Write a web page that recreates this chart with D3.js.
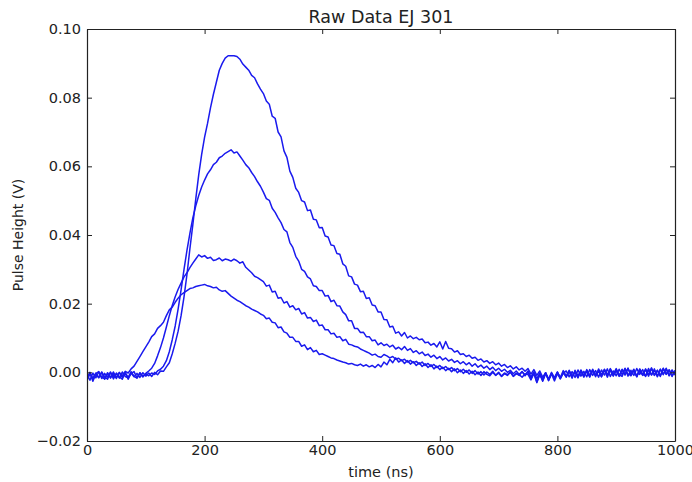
<!DOCTYPE html>
<html>
<head>
<meta charset="utf-8">
<script src="https://cdn.jsdelivr.net/npm/d3@7"></script>
<style>
  html, body { margin: 0; padding: 0; background: #fff; }
  svg { display: block; }
  text { font-family: "DejaVu Sans", sans-serif; fill: #222; }
</style>
</head>
<body>
<svg id="chart" width="692" height="482"></svg>
<script>
// ---- data (time in ns, pulse height in V), sampled every 5 ns from 0 to 1000 ns ----
const timeNs = d3.range(0, 1001, 5);

const pulseA = [
 -0.0024,-0.0004,-0.0017,-0.0002,-0.0015,0.0001,-0.0013,-0.0020,-0.0001,-0.0014,
 -0.0004,-0.0017,0.0001,-0.0012,-0.0016,-0.0002,-0.0013,-0.0003,-0.0015,-0.0001,
 -0.0011,-0.0002,-0.0012,0.0000,-0.0007,0.0004,0.0003,0.0016,0.0028,0.0054,
 0.0085,0.0120,0.0165,0.0220,0.0285,0.0360,0.0430,0.0505,0.0575,0.0635,
 0.0685,0.0725,0.0770,0.0810,0.0845,0.0880,0.0900,0.0915,0.0922,0.0922,
 0.0922,0.0920,0.0912,0.0898,0.0889,0.0880,0.0865,0.0858,0.0840,0.0825,
 0.0812,0.0790,0.0781,0.0746,0.0740,0.0700,0.0686,0.0645,0.0626,0.0586,
 0.0568,0.0536,0.0524,0.0500,0.0496,0.0471,0.0473,0.0446,0.0444,0.0421,
 0.0422,0.0397,0.0394,0.0371,0.0369,0.0346,0.0344,0.0316,0.0309,0.0281,
 0.0278,0.0257,0.0254,0.0235,0.0236,0.0215,0.0217,0.0196,0.0194,0.0176,
 0.0176,0.0154,0.0153,0.0132,0.0134,0.0114,0.0118,0.0106,0.0116,0.0100,
 0.0106,0.0098,0.0102,0.0095,0.0097,0.0086,0.0088,0.0079,0.0084,0.0074,
 0.0089,0.0068,0.0090,0.0070,0.0069,0.0059,0.0063,0.0052,0.0054,0.0046,
 0.0050,0.0041,0.0044,0.0035,0.0039,0.0030,0.0034,0.0026,0.0031,0.0022,
 0.0027,0.0018,0.0023,0.0014,0.0019,0.0010,0.0016,0.0007,0.0012,0.0003,
 0.0011,-0.0005,0.0008,-0.0009,0.0004,-0.0014,-0.0001,-0.0024,-0.0003,-0.0016,
 0.0001,-0.0019,-0.0001,-0.0013,0.0006,-0.0012,0.0002,-0.0015,0.0007,-0.0010,
 0.0005,-0.0011,0.0009,-0.0008,0.0006,-0.0013,0.0008,-0.0007,0.0011,-0.0009,
 0.0004,-0.0012,0.0009,-0.0006,0.0012,-0.0010,0.0005,-0.0013,0.0010,-0.0007,
 0.0008,-0.0011,0.0011,-0.0008,0.0006,-0.0012,0.0012,-0.0006,0.0007,-0.0010,
 0.0005
];

const pulseB = [
 -0.0016,0.0000,-0.0021,-0.0004,0.0002,-0.0018,-0.0003,-0.0014,0.0001,-0.0019,
 -0.0002,-0.0013,-0.0020,-0.0001,-0.0015,0.0002,-0.0012,-0.0017,-0.0002,-0.0013,
 -0.0004,-0.0010,-0.0002,-0.0006,0.0004,0.0009,0.0018,0.0034,0.0060,0.0095,
 0.0135,0.0185,0.0240,0.0300,0.0355,0.0405,0.0450,0.0485,0.0515,0.0540,
 0.0560,0.0578,0.0590,0.0605,0.0612,0.0625,0.0630,0.0638,0.0643,0.0648,
 0.0639,0.0642,0.0630,0.0618,0.0605,0.0596,0.0582,0.0570,0.0555,0.0542,
 0.0525,0.0506,0.0501,0.0478,0.0466,0.0450,0.0436,0.0416,0.0409,0.0378,
 0.0364,0.0338,0.0324,0.0300,0.0294,0.0278,0.0272,0.0252,0.0250,0.0238,
 0.0238,0.0222,0.0224,0.0206,0.0210,0.0194,0.0193,0.0176,0.0168,0.0150,
 0.0150,0.0128,0.0128,0.0116,0.0117,0.0104,0.0104,0.0092,0.0094,0.0080,
 0.0086,0.0078,0.0082,0.0074,0.0079,0.0068,0.0073,0.0066,0.0075,0.0064,
 0.0069,0.0058,0.0063,0.0054,0.0059,0.0049,0.0053,0.0044,0.0050,0.0040,
 0.0046,0.0036,0.0042,0.0033,0.0038,0.0029,0.0034,0.0025,0.0031,0.0022,
 0.0028,0.0018,0.0025,0.0015,0.0021,0.0012,0.0018,0.0008,0.0015,0.0005,
 0.0012,0.0003,0.0009,0.0000,0.0006,-0.0004,0.0004,-0.0006,0.0002,-0.0008,
 0.0004,-0.0014,0.0001,-0.0018,-0.0002,-0.0026,-0.0004,-0.0020,0.0000,-0.0017,
 -0.0001,-0.0015,0.0005,-0.0011,0.0002,-0.0017,0.0006,-0.0010,0.0003,-0.0014,
 0.0008,-0.0009,0.0005,-0.0013,0.0010,-0.0007,0.0006,-0.0014,0.0009,-0.0006,
 0.0011,-0.0010,0.0007,-0.0008,0.0012,-0.0006,0.0009,-0.0011,0.0005,-0.0009,
 0.0010,-0.0007,0.0013,-0.0009,0.0006,-0.0010,0.0011,-0.0005,0.0007,-0.0012,
 0.0005
];

const pulseC = [
 -0.0006,-0.0023,-0.0002,-0.0016,0.0001,-0.0014,-0.0019,-0.0001,-0.0017,-0.0004,
 -0.0018,0.0000,-0.0015,-0.0002,-0.0020,-0.0003,0.0002,-0.0016,-0.0001,-0.0013,
 -0.0003,0.0004,0.0012,0.0026,0.0048,0.0072,0.0100,0.0132,0.0165,0.0195,
 0.0220,0.0242,0.0260,0.0278,0.0290,0.0305,0.0318,0.0330,0.0342,0.0336,
 0.0340,0.0332,0.0335,0.0326,0.0328,0.0333,0.0325,0.0330,0.0328,0.0324,
 0.0330,0.0325,0.0318,0.0322,0.0306,0.0298,0.0290,0.0280,0.0276,0.0270,
 0.0264,0.0251,0.0254,0.0234,0.0236,0.0216,0.0218,0.0202,0.0206,0.0190,
 0.0194,0.0182,0.0186,0.0170,0.0174,0.0158,0.0160,0.0148,0.0152,0.0136,
 0.0138,0.0124,0.0124,0.0112,0.0114,0.0102,0.0104,0.0092,0.0096,0.0082,
 0.0080,0.0076,0.0074,0.0068,0.0064,0.0060,0.0056,0.0050,0.0053,0.0046,
 0.0044,0.0052,0.0048,0.0042,0.0046,0.0038,0.0041,0.0034,0.0038,0.0030,
 0.0035,0.0028,0.0032,0.0024,0.0030,0.0020,0.0026,0.0017,0.0023,0.0014,
 0.0020,0.0011,0.0017,0.0008,0.0014,0.0005,0.0011,0.0002,0.0009,0.0000,
 0.0007,-0.0003,0.0005,-0.0005,0.0002,-0.0008,0.0001,-0.0006,0.0003,-0.0009,
 0.0000,-0.0011,-0.0002,-0.0007,0.0001,-0.0012,-0.0004,-0.0009,0.0002,-0.0010,
 0.0001,-0.0019,-0.0002,-0.0028,-0.0005,-0.0020,-0.0001,-0.0024,-0.0004,-0.0017,
 0.0001,-0.0016,-0.0002,0.0004,-0.0013,0.0002,-0.0015,0.0007,-0.0011,0.0003,
 -0.0013,0.0008,-0.0009,0.0005,-0.0014,0.0007,-0.0008,0.0010,-0.0012,0.0004,
 -0.0010,0.0009,-0.0007,0.0012,-0.0011,0.0006,-0.0009,0.0011,-0.0006,0.0008,
 -0.0012,0.0007,-0.0008,0.0010,-0.0013,0.0009,-0.0007,0.0012,-0.0010,0.0005,
 -0.0008
];

const pulseD = [
 -0.0019,-0.0003,-0.0026,-0.0005,-0.0016,0.0000,-0.0020,-0.0004,-0.0014,0.0001,
 -0.0015,-0.0001,-0.0010,0.0003,-0.0002,0.0010,0.0018,0.0032,0.0046,0.0060,
 0.0074,0.0088,0.0104,0.0112,0.0128,0.0136,0.0146,0.0165,0.0182,0.0190,
 0.0204,0.0216,0.0226,0.0232,0.0238,0.0244,0.0246,0.0250,0.0252,0.0254,
 0.0256,0.0252,0.0250,0.0246,0.0248,0.0240,0.0236,0.0238,0.0230,0.0222,
 0.0216,0.0210,0.0206,0.0200,0.0194,0.0190,0.0184,0.0180,0.0176,0.0170,
 0.0166,0.0156,0.0158,0.0146,0.0144,0.0130,0.0132,0.0118,0.0114,0.0102,
 0.0102,0.0090,0.0090,0.0076,0.0080,0.0066,0.0072,0.0060,0.0064,0.0052,
 0.0054,0.0050,0.0046,0.0042,0.0040,0.0036,0.0033,0.0030,0.0028,0.0024,
 0.0026,0.0022,0.0020,0.0024,0.0018,0.0022,0.0016,0.0020,0.0014,0.0023,
 0.0016,0.0030,0.0022,0.0038,0.0028,0.0042,0.0030,0.0036,0.0026,0.0034,
 0.0024,0.0031,0.0020,0.0028,0.0017,0.0025,0.0014,0.0022,0.0010,0.0018,
 0.0008,0.0015,0.0005,0.0012,0.0002,0.0010,-0.0001,0.0007,-0.0003,0.0005,
 -0.0005,0.0003,-0.0007,0.0001,-0.0009,0.0002,-0.0006,-0.0010,0.0000,-0.0008,
 -0.0002,-0.0012,-0.0004,-0.0009,0.0001,-0.0011,-0.0003,-0.0007,-0.0014,-0.0005,
 -0.0006,-0.0022,-0.0003,-0.0030,-0.0007,-0.0024,-0.0002,-0.0019,-0.0005,-0.0025,
 -0.0004,-0.0018,0.0000,-0.0014,0.0004,-0.0012,0.0001,-0.0016,0.0005,-0.0010,
 0.0002,-0.0014,0.0007,-0.0009,0.0003,-0.0013,0.0009,-0.0008,0.0005,-0.0011,
 0.0008,-0.0007,-0.0012,0.0010,-0.0005,-0.0009,0.0007,-0.0013,0.0009,-0.0006,
 -0.0010,0.0011,-0.0007,0.0006,-0.0011,0.0009,-0.0005,0.0010,-0.0009,0.0007,
 -0.0007
];

const seriesList = [pulseA, pulseB, pulseC, pulseD];
const xTicks = [0, 200, 400, 600, 800, 1000];
const yTicks = [-0.02, 0.00, 0.02, 0.04, 0.06, 0.08, 0.10];
const titleText = "Raw Data EJ 301";
const xLabel = "time (ns)";
const yLabel = "Pulse Height (V)";

// ---- layout ----
const plot = { left: 87, top: 29, right: 675, bottom: 441 };

const svg = d3.select("#chart");

const x = d3.scaleLinear().domain([0, 1000]).range([plot.left, plot.right]);
const y = d3.scaleLinear().domain([-0.02, 0.10]).range([plot.bottom, plot.top]);

svg.append("defs").append("clipPath").attr("id", "clip")
  .append("rect")
  .attr("x", plot.left).attr("y", plot.top)
  .attr("width", plot.right - plot.left).attr("height", plot.bottom - plot.top);

// lines
const line = d3.line()
  .x((d, i) => x(timeNs[i]))
  .y(d => y(d));

svg.append("g").attr("clip-path", "url(#clip)")
  .selectAll("path")
  .data(seriesList)
  .join("path")
  .attr("d", line)
  .attr("fill", "none")
  .attr("stroke", "#1a1aee")
  .attr("stroke-width", 1.5)
  .attr("stroke-linejoin", "round");

// axes
const fmtY = d3.format(".2f");
const tickLen = 5;
const axisFont = "14.5px";

const gx = svg.append("g").attr("transform", `translate(0,${plot.bottom})`)
  .call(d3.axisBottom(x).tickValues(xTicks).tickFormat(d3.format("d"))
    .tickSizeInner(-tickLen).tickSizeOuter(0).tickPadding(4));
const gy = svg.append("g").attr("transform", `translate(${plot.left},0)`)
  .call(d3.axisLeft(y).tickValues(yTicks).tickFormat(fmtY)
    .tickSizeInner(-tickLen).tickSizeOuter(0).tickPadding(6));
const gt = svg.append("g").attr("transform", `translate(0,${plot.top})`)
  .call(d3.axisTop(x).tickValues(xTicks).tickFormat("")
    .tickSizeInner(-tickLen).tickSizeOuter(0));
const gr = svg.append("g").attr("transform", `translate(${plot.right},0)`)
  .call(d3.axisRight(y).tickValues(yTicks).tickFormat("")
    .tickSizeInner(-tickLen).tickSizeOuter(0));

[gx, gy, gt, gr].forEach(g => {
  g.select(".domain").attr("stroke", "#222").attr("stroke-width", 1.2);
  g.selectAll(".tick line").attr("stroke", "#222").attr("stroke-width", 1);
  g.selectAll(".tick text").style("font-family", "DejaVu Sans, sans-serif")
    .style("font-size", axisFont).attr("fill", "#222");
});

// title and labels
svg.append("text")
  .attr("x", (plot.left + plot.right) / 2).attr("y", 23)
  .attr("text-anchor", "middle")
  .style("font-size", "17.5px")
  .text(titleText);

svg.append("text")
  .attr("x", (plot.left + plot.right) / 2).attr("y", 477)
  .attr("text-anchor", "middle")
  .style("font-size", "14.5px")
  .text(xLabel);

svg.append("text")
  .attr("transform", `translate(23,235) rotate(-90)`)
  .attr("text-anchor", "middle")
  .style("font-size", "14px")
  .text(yLabel);
</script>
</body>
</html>
